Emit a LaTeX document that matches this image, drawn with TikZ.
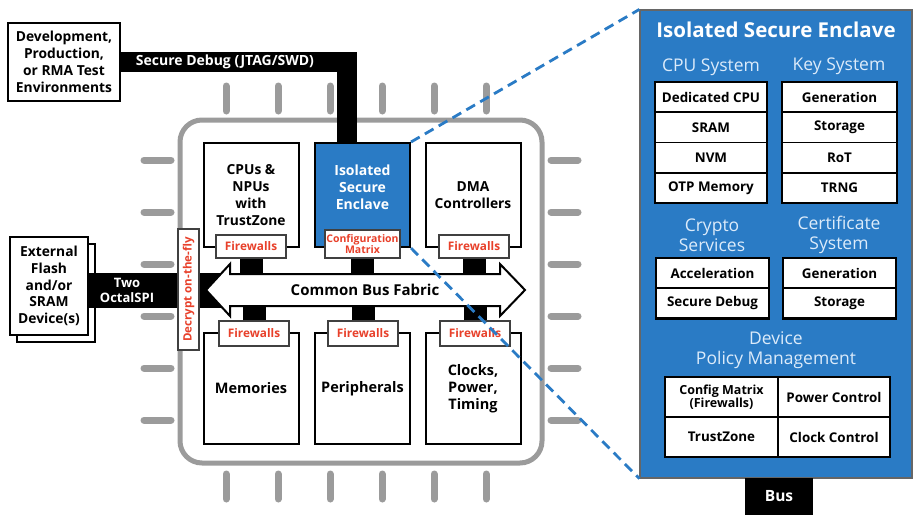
\documentclass[tikz,border=0pt]{standalone}
\usepackage{fontspec}
\setmainfont{Open Sans}
\usepackage{tikz}
\usetikzlibrary{positioning, calc}
\definecolor{azul}{HTML}{2A7BC5}
\definecolor{azulclaro}{HTML}{DCEBFA}
\definecolor{rojo}{HTML}{E8402A}
\definecolor{gris}{HTML}{9B9B9B}
\tikzset{
  caja/.style={draw=black, line width=2pt, fill=white, inner sep=0pt, align=center,
              font=\fontsize{13.8}{16.8}\selectfont\bfseries},
  muro/.style={draw=black!75, line width=1.2pt, fill=white, text=rojo, inner sep=0pt,
              minimum width=70pt, minimum height=23pt, align=center,
              font=\fontsize{11.8}{12}\selectfont\bfseries},
  celda/.style={draw=black, line width=1.5pt, fill=white, inner sep=0pt, outer sep=0pt,
              minimum width=112pt, minimum height=30.3pt, align=center,
              font=\fontsize{13.4}{14}\selectfont\bfseries},
  marco/.style={draw=black, line width=2.6pt},
  subt/.style={text=azulclaro, align=center, font=\fontsize{17.5}{20}\selectfont},
  pata/.style={gris, line width=7pt, line cap=round},
  barra/.style={draw=black, line width=23pt},
  enlace/.style={azul, line width=2.8pt, dash pattern=on 10pt off 6pt},
}

\begin{document}
\begin{tikzpicture}[x=1pt, y=-1pt]
  \useasboundingbox (0,0) rectangle (915,515);
  \foreach \x in {226,278,330,382,434,486} {
    \draw[pata] (\x,86) -- (\x,111);
    \draw[pata] (\x,474) -- (\x,499);
  }
  \foreach \y in {160,212,264,316,368,420} {
    \draw[pata] (144,\y) -- (171,\y);
    \draw[pata] (551,\y) -- (578,\y);
  }
  \node[draw=gris, line width=5pt, rounded corners=22pt, minimum width=362pt, minimum height=343pt] (chip) at (361,291.5) {};

  \node[caja, minimum width=112pt, minimum height=78pt] (dev) at (64,62) {Development,\\Production,\\or RMA Test\\Environments};
  \node[caja, minimum width=78pt, minimum height=98pt] (flashb) at (56,293) {};
  \node[caja, minimum width=78pt, minimum height=98pt] (flash) at (49,286) {External\\Flash\\and/or\\SRAM\\Device(s)};

  \node[caja, minimum width=95pt, minimum height=104pt] (cpu) at (251,195) {CPUs \&\\NPUs\\with\\TrustZone};
  \node[caja, fill=azul, minimum width=95pt, minimum height=104pt] (enc) at (362.5,195) {};
  \node[text=white, align=center, font=\fontsize{14}{16.8}\selectfont\bfseries] (enct) at (362.5,187) {Isolated\\Secure\\Enclave};
  \node[caja, minimum width=95pt, minimum height=104pt] (dma) at (473,195) {DMA\\Controllers};
  \node[caja, minimum width=95pt, minimum height=111pt, font=\fontsize{14.5}{17}\selectfont\bfseries] (mem) at (251,388.5) {Memories};
  \node[caja, minimum width=95pt, minimum height=111pt, font=\fontsize{14.5}{17}\selectfont\bfseries] (per) at (362.5,388.5) {Peripherals};
  \node[caja, minimum width=95pt, minimum height=111pt, font=\fontsize{14.5}{17}\selectfont\bfseries] (clk) at (473,388.5) {Clocks,\\Power,\\Timing};

  \draw[barra, line width=20pt] (dev.east) -| ([xshift=-15.5pt]enc.north)
    node[pos=0.23, text=white, font=\fontsize{14}{15}\selectfont\bfseries] {Secure Debug (JTAG/SWD)};

  \node[minimum width=270pt, minimum height=32pt, inner sep=0pt] (bus) at (365,290) {};
  \draw[barra, line width=35pt] (flash.east |- bus.west) -- (bus.west)
    node[pos=0.27, text=white, align=center, font=\fontsize{13}{15}\selectfont\bfseries] {Two\\OctalSPI};
  \draw[draw=black, fill=white, line width=2pt] (206,290) -- (230,264) -- (230,274) -- (500,274) -- (500,264) -- (525,290)
    -- (500,316) -- (500,306) -- (230,306) -- (230,316) -- cycle;
  \node[font=\fontsize{15}{16}\selectfont\bfseries] (bust) at (bus.center) {Common Bus Fabric};

  \node[muro] (fw1) at (251,246.5) {Firewalls};
  \node[muro, minimum width=75pt, minimum height=28pt, font=\fontsize{10.5}{10.5}\selectfont\bfseries] (cfg) at (362.5,244) {Configuration\\Matrix};
  \node[muro] (fw2) at (474,246.5) {Firewalls};
  \node[muro, minimum height=25pt] (fw3) at (254,333.5) {Firewalls};
  \node[muro, minimum height=25pt] (fw4) at (363,333.5) {Firewalls};
  \node[muro, minimum height=25pt] (fw5) at (475,333.5) {Firewalls};
  \draw[barra] (fw1.south) -- (fw1.south |- bus.north);
  \draw[barra] (cfg.south) -- (cfg.south |- bus.north);
  \draw[barra] (fw2.south) -- (fw2.south |- bus.north);
  \draw[barra] (fw3.north) -- (fw3.north |- bus.south);
  \draw[barra] (fw4.north) -- (fw4.north |- bus.south);
  \draw[barra] (fw5.north) -- (fw5.north |- bus.south);
  \node[muro, rotate=90, minimum width=121pt, minimum height=21pt, font=\fontsize{11.5}{12}\selectfont\bfseries] (desc) at (188.5,289.5) {Decrypt on-the-fly};

  \node[draw=black!60, line width=1.2pt, fill=azul, minimum width=272pt, minimum height=468pt, inner sep=0pt] (panel) at (776,244) {};
  \node[fill=black, text=white, minimum width=68pt, minimum height=37pt, font=\fontsize{15.5}{17}\selectfont\bfseries] (busb) at (779,496.5) {Bus};
  \node[text=white, font=\fontsize{20.5}{22}\selectfont\bfseries] (tit) at (776,30) {Isolated Secure Enclave};
  \node[subt] (cpus) at (711,67) {CPU System};
  \node[subt] (keys) at (839,66) {Key System};
  \node[celda] (c1) at (711,97) {Dedicated CPU};
  \node[celda, below=0pt of c1] (c2) {SRAM};
  \node[celda, below=0pt of c2] (c3) {NVM};
  \node[celda, below=0pt of c3] (c4) {OTP Memory};
  \draw[marco] (c1.north west) rectangle (c4.south east);
  \node[celda, minimum width=115pt] (k1) at (839.5,97) {Generation};
  \node[celda, minimum width=115pt, below=0pt of k1] (k2) {Storage};
  \node[celda, minimum width=115pt, below=0pt of k2] (k3) {RoT};
  \node[celda, minimum width=115pt, below=0pt of k3] (k4) {TRNG};
  \draw[marco] (k1.north west) rectangle (k4.south east);

  \node[subt] (cry) at (712,235) {Crypto\\Services};
  \node[subt] (cer) at (839,235) {Certificate\\System};
  \node[celda, minimum width=113pt] (s1) at (712.5,273) {Acceleration};
  \node[celda, minimum width=113pt, below=0pt of s1] (s2) {Secure Debug};
  \draw[marco] (s1.north west) rectangle (s2.south east);
  \node[celda, minimum width=113pt] (e1) at (839.5,273) {Generation};
  \node[celda, minimum width=113pt, below=0pt of e1] (e2) {Storage};
  \draw[marco] (e1.north west) rectangle (e2.south east);

  \node[subt] (pol) at (776,350) {Device\\Policy Management};
  \node[celda, minimum width=113pt, minimum height=40pt, font=\fontsize{12.5}{13.5}\selectfont\bfseries] (p1) at (721.5,397) {Config Matrix\\(Firewalls)};
  \node[celda, minimum width=112pt, minimum height=40pt, right=0pt of p1] (p2) {Power Control};
  \node[celda, minimum width=113pt, minimum height=40pt, below=0pt of p1] (p3) {TrustZone};
  \node[celda, minimum width=112pt, minimum height=40pt, below=0pt of p2] (p4) {Clock Control};
  \draw[marco] (p1.north west) rectangle (p4.south east);

  \draw[enlace] (enc.north east) -- (panel.north west);
  \draw[enlace] (enc.south east) -- (panel.south west);
\end{tikzpicture}
\end{document}
